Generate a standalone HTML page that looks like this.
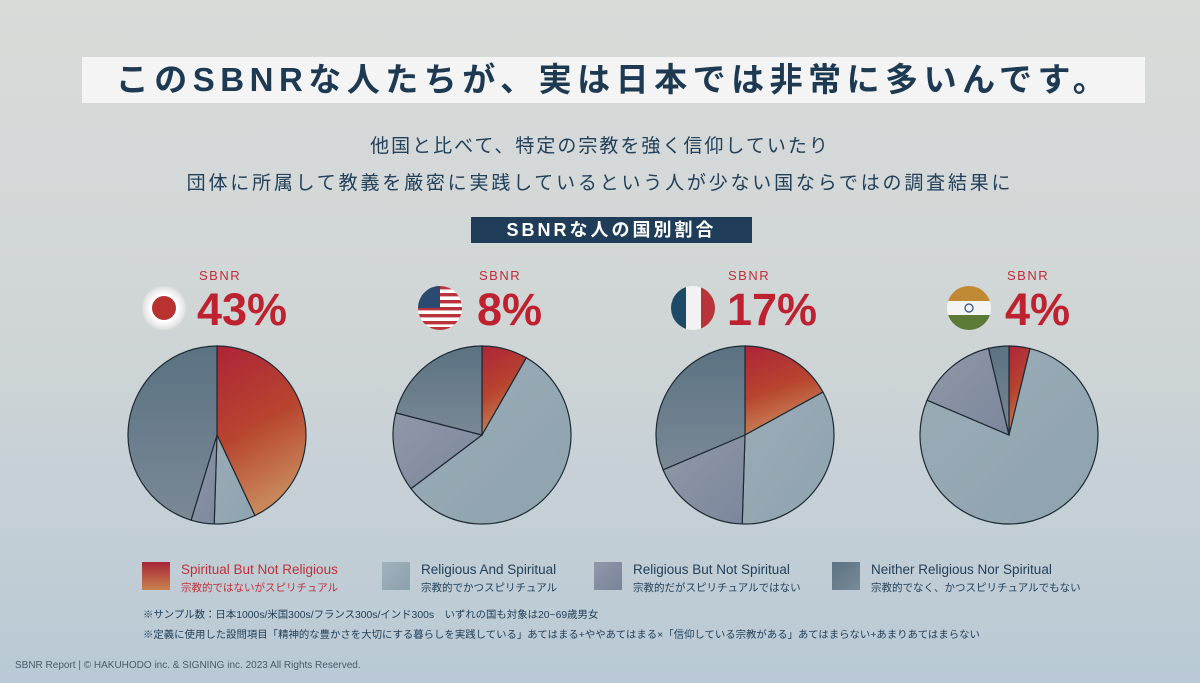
<!DOCTYPE html><html><head><meta charset="utf-8"><style>
body{margin:0;width:1200px;height:683px;overflow:hidden;font-family:"Liberation Sans","Noto Sans CJK JP",sans-serif;background:linear-gradient(180deg,#d9dbd9 0%,#cfd5d6 50%,#b9c9d5 100%);position:relative}
.a{position:absolute;white-space:nowrap}
.t{left:82px;top:57px;width:1063px;height:46px;background:#f3f4f3;color:#1d3a52;font-size:33px;font-weight:bold;text-align:center;line-height:46px;letter-spacing:5.5px}
.s{left:0;width:1200px;text-align:center;color:#22405a;font-size:19px;letter-spacing:2px}
.lb{left:471px;top:217px;width:281px;height:26px;background:#1f3d58;color:#fff;font-weight:bold;font-size:18px;text-align:center;line-height:26px;letter-spacing:3px}
.sb{color:#c0303a;font-size:13px;letter-spacing:1.5px}
.p{color:#be2230;font-size:45px;font-weight:bold;line-height:45px}
.lg{font-size:13.5px;color:#22405a}
.lg small{display:block;font-size:10.5px;margin-top:3px}
.sw{width:28px;height:28px}
.n{font-size:10.4px;color:#22405a}
</style></head><body>
<div class="a t">このSBNRな人たちが、実は日本では非常に多いんです。</div>
<div class="a s" style="top:131px">他国と比べて、特定の宗教を強く信仰していたり</div>
<div class="a s" style="top:168px;letter-spacing:2.8px">団体に所属して教義を厳密に実践しているという人が少ない国ならではの調査結果に</div>
<div class="a lb">SBNRな人の国別割合</div>

<div class="a sb" style="left:199px;top:268px">SBNR</div><div class="a p" style="left:197px;top:287px">43%</div>
<div class="a sb" style="left:479px;top:268px">SBNR</div><div class="a p" style="left:477px;top:287px">8%</div>
<div class="a sb" style="left:728px;top:268px">SBNR</div><div class="a p" style="left:727px;top:287px">17%</div>
<div class="a sb" style="left:1007px;top:268px">SBNR</div><div class="a p" style="left:1005px;top:287px">4%</div>

<svg class="a" style="left:0;top:0" width="1200" height="683" id="sv">
<defs>
<linearGradient id="g0" x1="0" y1="0" x2="0.3" y2="1"><stop offset="0" stop-color="#ad2438"/><stop offset="0.55" stop-color="#b8452f"/><stop offset="1" stop-color="#c8875a"/></linearGradient>
<linearGradient id="g1" x1="0" y1="0" x2="1" y2="1"><stop offset="0" stop-color="#9aacb6"/><stop offset="1" stop-color="#8ea3af"/></linearGradient>
<linearGradient id="g2" x1="0" y1="0" x2="1" y2="1"><stop offset="0" stop-color="#8f98a8"/><stop offset="1" stop-color="#7d879c"/></linearGradient>
<linearGradient id="g3" x1="0" y1="0" x2="0" y2="1"><stop offset="0" stop-color="#5a7282"/><stop offset="1" stop-color="#7b8896"/></linearGradient>
<radialGradient id="jw"><stop offset="0.6" stop-color="#fff"/><stop offset="1" stop-color="#ddd"/></radialGradient>
<clipPath id="cu"><circle cx="440" cy="308" r="22"/></clipPath>
<clipPath id="cf"><circle cx="693" cy="308" r="22"/></clipPath>
<clipPath id="ci"><circle cx="969" cy="308" r="22"/></clipPath>
</defs>
<circle cx="164" cy="308" r="22" fill="url(#jw)"/><circle cx="164" cy="308" r="12" fill="#b9322f"/>
<g clip-path="url(#cu)"><rect x="418" y="286" width="44" height="44" fill="#fff"/>
<g fill="#b8343a"><rect x="418" y="286" width="44" height="3.4"/><rect x="418" y="293" width="44" height="3.4"/><rect x="418" y="300" width="44" height="3.4"/><rect x="418" y="307" width="44" height="3.4"/><rect x="418" y="314" width="44" height="3.4"/><rect x="418" y="321" width="44" height="3.4"/><rect x="418" y="327" width="44" height="3.4"/></g>
<rect x="418" y="286" width="22" height="22" fill="#2b4a72"/></g>
<g clip-path="url(#cf)"><rect x="671" y="286" width="15" height="44" fill="#1f4a66"/><rect x="686" y="286" width="15" height="44" fill="#f2f2f2"/><rect x="701" y="286" width="15" height="44" fill="#b8343a"/></g>
<g clip-path="url(#ci)"><rect x="947" y="286" width="44" height="15" fill="#c08a35"/><rect x="947" y="301" width="44" height="14" fill="#f4f4f4"/><rect x="947" y="315" width="44" height="15" fill="#5c7a35"/><circle cx="969" cy="308" r="4" fill="none" stroke="#2a4a72" stroke-width="1.2"/></g>
</svg>

<div class="a" style="left:142px;top:562px"><div class="sw" style="background:linear-gradient(#a92538,#c8834e)"></div></div>
<div class="a lg" style="left:181px;top:562px;color:#c0303a">Spiritual But Not Religious<small>宗教的ではないがスピリチュアル</small></div>
<div class="a" style="left:382px;top:562px"><div class="sw" style="background:linear-gradient(135deg,#a0b2bc,#8ba0ad)"></div></div>
<div class="a lg" style="left:421px;top:562px">Religious And Spiritual<small>宗教的でかつスピリチュアル</small></div>
<div class="a" style="left:594px;top:562px"><div class="sw" style="background:linear-gradient(135deg,#9098aa,#7a8498)"></div></div>
<div class="a lg" style="left:633px;top:562px">Religious But Not Spiritual<small>宗教的だがスピリチュアルではない</small></div>
<div class="a" style="left:832px;top:562px"><div class="sw" style="background:linear-gradient(135deg,#5a7282,#7a8a98)"></div></div>
<div class="a lg" style="left:871px;top:562px">Neither Religious Nor Spiritual<small>宗教的でなく、かつスピリチュアルでもない</small></div>
<div class="a n" style="left:143px;top:606px">※サンプル数：日本1000s/米国300s/フランス300s/インド300s　いずれの国も対象は20~69歳男女</div>
<div class="a n" style="left:143px;top:626px">※定義に使用した設問項目「精神的な豊かさを大切にする暮らしを実践している」あてはまる+ややあてはまる×「信仰している宗教がある」あてはまらない+あまりあてはまらない</div>
<div class="a" style="left:15px;top:660px;font-size:10px;color:#4a5a68">SBNR Report | © HAKUHODO inc. &amp; SIGNING inc. 2023 All Rights Reserved.</div>
<script>
var sv=document.getElementById('sv'),ns='http://www.w3.org/2000/svg';
var P=[[217,0.43,0.505,0.547],[482,0.083,0.647,0.79],[745,0.17,0.505,0.686],[1009,0.038,0.814,0.963]];
P.forEach(function(p){var cx=p[0],cy=435,r=89,f=[0,p[1],p[2],p[3],1];
for(var i=0;i<4;i++){var a0=f[i]*2*Math.PI-Math.PI/2,a1=f[i+1]*2*Math.PI-Math.PI/2;
var d='M'+cx+','+cy+'L'+(cx+r*Math.cos(a0))+','+(cy+r*Math.sin(a0))+'A'+r+','+r+' 0 '+((a1-a0)>Math.PI?1:0)+' 1 '+(cx+r*Math.cos(a1))+','+(cy+r*Math.sin(a1))+'Z';
var e=document.createElementNS(ns,'path');e.setAttribute('d',d);e.setAttribute('fill','url(#g'+i+')');e.setAttribute('stroke','#1e2a33');e.setAttribute('stroke-width','1.2');sv.appendChild(e);}});
</script>
</body></html>
